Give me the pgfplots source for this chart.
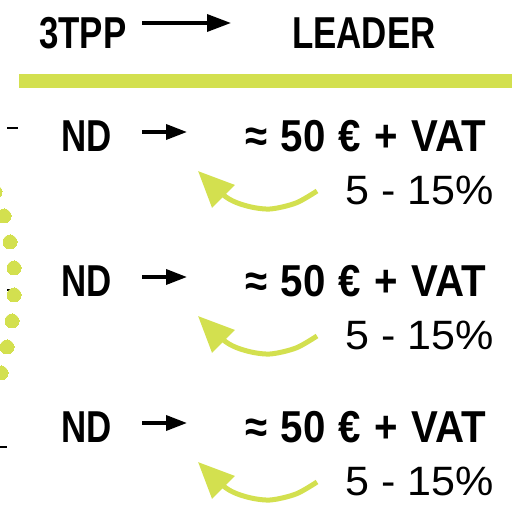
\documentclass[border=0pt]{standalone}
\usepackage{fontspec}
\setmainfont{Liberation Sans}
\newfontfamily\cond[FakeStretch=0.78]{Liberation Sans}
\newfontfamily\condw[FakeStretch=0.9,WordSpace=1.2]{Liberation Sans}
\newfontfamily\wide[FakeStretch=1.05]{Liberation Sans}
\usepackage{pgfplots}
\pgfplotsset{compat=1.18}
\usetikzlibrary{arrows.meta}
\definecolor{lime}{HTML}{D3E04F}
\newcommand{\bigsz}{\fontsize{44.7}{50}\selectfont}
\newcommand{\pct}{\wide\fontsize{41}{46}\selectfont}
\begin{document}
\begin{tikzpicture}
\begin{axis}[scale only axis, width=523pt, height=513pt,
  xmin=0, xmax=523, ymin=0, ymax=513, y dir=reverse,
  axis lines=none, clip=false]
% header
\node[anchor=base west, inner sep=0] at (axis cs:39,49) {\cond\bfseries\bigsz 3TPP};
\node[anchor=base west, inner sep=0] at (axis cs:292,49) {\cond\bfseries\bigsz LEADER};
\addplot[black, line width=3.5pt, -{Triangle[length=24pt,width=17pt]}] coordinates {(142,23) (231,23)};
\addplot[fill=lime, draw=none] coordinates {(19,74) (512,74) (512,88) (19,88)} -- cycle;
% left dots and dashes
\addplot[lime, only marks, mark=*, mark size=7pt, mark options={draw=lime, fill=lime, line width=0pt}] coordinates {
(-5,192) (4,216) (10,242) (14,268) (14,295) (12,321) (7,347) (1,373)};
\addplot[black, line width=2pt] coordinates {(7,128) (18,128)};
\addplot[black, line width=2pt] coordinates {(7,290) (18,290)};
\addplot[black, line width=2pt] coordinates {(0,447) (7,447)};
% row 1
\node[anchor=base west, inner sep=0] at (axis cs:61,152) {\cond\bfseries\bigsz ND};
\node[anchor=base west, inner sep=0] at (axis cs:245,152) {\condw\bfseries\bigsz ≈ 50 € + VAT};
\node[anchor=base west, inner sep=0] at (axis cs:345,205) {\pct 5 - 15\%};
\addplot[black, line width=3.5pt, -{Triangle[length=21pt,width=15pt]}] coordinates {(142,132) (187,132)};
\addplot[lime, line width=5pt, smooth, -{Triangle[length=36pt,width=31pt]}] coordinates {(317,191) (296,203) (270,209) (247,206) (226,197) (198,171)};
% row 2
\node[anchor=base west, inner sep=0] at (axis cs:61,297) {\cond\bfseries\bigsz ND};
\node[anchor=base west, inner sep=0] at (axis cs:245,297) {\condw\bfseries\bigsz ≈ 50 € + VAT};
\node[anchor=base west, inner sep=0] at (axis cs:345,350) {\pct 5 - 15\%};
\addplot[black, line width=3.5pt, -{Triangle[length=21pt,width=15pt]}] coordinates {(142,277) (187,277)};
\addplot[lime, line width=5pt, smooth, -{Triangle[length=36pt,width=31pt]}] coordinates {(317,336) (296,348) (270,354) (247,351) (226,342) (198,316)};
% row 3
\node[anchor=base west, inner sep=0] at (axis cs:61,443) {\cond\bfseries\bigsz ND};
\node[anchor=base west, inner sep=0] at (axis cs:245,443) {\condw\bfseries\bigsz ≈ 50 € + VAT};
\node[anchor=base west, inner sep=0] at (axis cs:345,496) {\pct 5 - 15\%};
\addplot[black, line width=3.5pt, -{Triangle[length=21pt,width=15pt]}] coordinates {(142,423) (187,423)};
\addplot[lime, line width=5pt, smooth, -{Triangle[length=36pt,width=31pt]}] coordinates {(317,482) (296,494) (270,500) (247,497) (226,488) (198,462)};
\end{axis}
\pgfresetboundingbox
\path (current axis.south west) rectangle (current axis.north east);
\end{tikzpicture}
\end{document}
